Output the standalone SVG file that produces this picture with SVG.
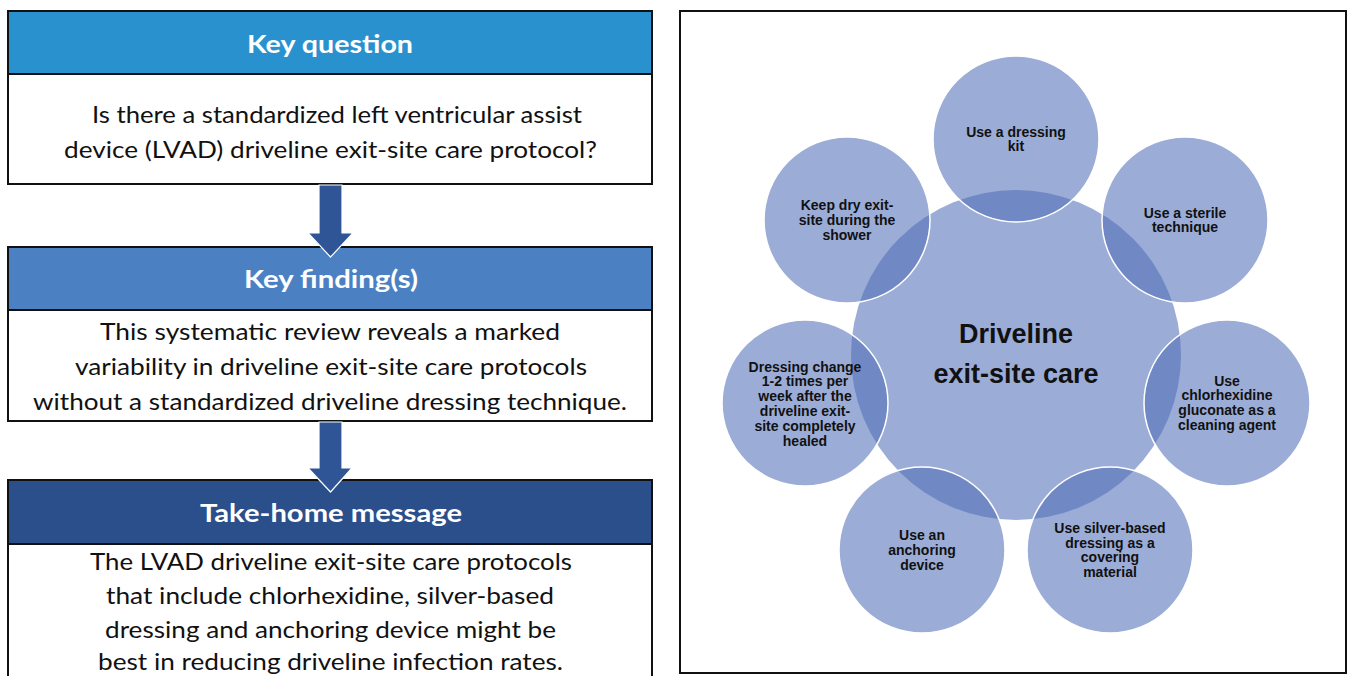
<svg xmlns="http://www.w3.org/2000/svg" width="1348" height="676" viewBox="0 0 1348 676">
<style>
.box{fill:#fff;stroke:#111;stroke-width:2}
.hdr{stroke:#111;stroke-width:2}
.ht{font-family:Lato,"Open Sans","Liberation Sans",sans-serif;font-weight:bold;font-size:24px;fill:#fff;text-anchor:middle}
.bt{font-family:Lato,"Open Sans","Liberation Sans",sans-serif;font-size:23px;fill:#111;text-anchor:middle}
.sat{fill:#506DB7;fill-opacity:0.57;stroke:#fff;stroke-width:1.5}
.ctr{fill:#506DB7;fill-opacity:0.57}
.st{font-family:"Liberation Sans",Arial,sans-serif;font-weight:bold;font-size:14px;fill:#111;text-anchor:middle}
.ct{font-family:"Liberation Sans",Arial,sans-serif;font-weight:bold;font-size:27px;fill:#111;text-anchor:middle}
.arr{fill:#2F5597;stroke:#fff;stroke-width:1.2;stroke-linejoin:miter}
</style>
<rect width="1348" height="676" fill="#fff"/>

<g id="key-question">
<rect class="box" x="8" y="11" width="644" height="173"/>
<rect class="hdr" x="8" y="11" width="644" height="63" fill="#2A91CF"/>
<text class="ht" x="330" y="53" textLength="166" lengthAdjust="spacingAndGlyphs">Key question</text>
<text class="bt" x="337" y="123" textLength="490" lengthAdjust="spacingAndGlyphs">Is there a standardized left ventricular assist</text>
<text class="bt" x="330.5" y="158" textLength="533" lengthAdjust="spacingAndGlyphs">device (LVAD) driveline exit-site care protocol?</text>
</g>

<g id="key-findings">
<rect class="box" x="8" y="247" width="644" height="174"/>
<rect class="hdr" x="8" y="247" width="644" height="63" fill="#4B81C3"/>
<text class="ht" x="331" y="288" textLength="174" lengthAdjust="spacingAndGlyphs">Key finding(s)</text>
<text class="bt" x="330" y="340" textLength="460" lengthAdjust="spacingAndGlyphs">This systematic review reveals a marked</text>
<text class="bt" x="331" y="375" textLength="512" lengthAdjust="spacingAndGlyphs">variability in driveline exit-site care protocols</text>
<text class="bt" x="330" y="410" textLength="594" lengthAdjust="spacingAndGlyphs">without a standardized driveline dressing technique.</text>
</g>

<g id="take-home">
<rect class="box" x="8" y="480" width="644" height="220"/>
<rect class="hdr" x="8" y="480" width="644" height="64" fill="#2B4F8A"/>
<text class="ht" x="331" y="522" textLength="262" lengthAdjust="spacingAndGlyphs">Take-home message</text>
<text class="bt" x="331" y="570" textLength="482" lengthAdjust="spacingAndGlyphs">The LVAD driveline exit-site care protocols</text>
<text class="bt" x="330" y="604" textLength="448" lengthAdjust="spacingAndGlyphs">that include chlorhexidine, silver-based</text>
<text class="bt" x="330.5" y="638" textLength="451" lengthAdjust="spacingAndGlyphs">dressing and anchoring device might be</text>
<text class="bt" x="330.5" y="670" textLength="465" lengthAdjust="spacingAndGlyphs">best in reducing driveline infection rates.</text>
</g>

<g id="connectors">
<polygon class="arr" points="319,185 342,185 342,233 353,233 330.5,257 308,233 319,233"/>
<polygon class="arr" points="319,422 342,422 342,468 352,468 330.5,492 308,468 319,468"/>
</g>

<rect id="care-panel" x="680" y="11" width="666" height="662" fill="none" stroke="#111" stroke-width="2"/>

<g id="center">
<circle class="ctr" cx="1016" cy="355" r="165"/>
</g>

<g id="sat-kit">
<circle class="sat" cx="1016" cy="139" r="83"/>
<text class="st"><tspan x="1016" y="136.6">Use a dressing</tspan><tspan x="1016" y="151.4">kit</tspan></text>
</g>
<g id="sat-sterile">
<circle class="sat" cx="1185" cy="220" r="83"/>
<text class="st"><tspan x="1185" y="217.6">Use a sterile</tspan><tspan x="1185" y="232.4">technique</tspan></text>
</g>
<g id="sat-chlorhexidine">
<circle class="sat" cx="1227" cy="403" r="83"/>
<text class="st"><tspan x="1227" y="385.5">Use</tspan><tspan x="1227" y="400.3">chlorhexidine</tspan><tspan x="1227" y="415.1">gluconate as a</tspan><tspan x="1227" y="429.9">cleaning agent</tspan></text>
</g>
<g id="sat-silver">
<circle class="sat" cx="1110" cy="550" r="83"/>
<text class="st"><tspan x="1110" y="532.8">Use silver-based</tspan><tspan x="1110" y="547.6">dressing as a</tspan><tspan x="1110" y="562.4">covering</tspan><tspan x="1110" y="577.2">material</tspan></text>
</g>
<g id="sat-anchoring">
<circle class="sat" cx="922" cy="550" r="83"/>
<text class="st"><tspan x="922" y="540.2">Use an</tspan><tspan x="922" y="555">anchoring</tspan><tspan x="922" y="569.8">device</tspan></text>
</g>
<g id="sat-dressing-change">
<circle class="sat" cx="805" cy="403" r="83"/>
<text class="st"><tspan x="805" y="371.5">Dressing change</tspan><tspan x="805" y="386.3">1-2 times per</tspan><tspan x="805" y="401.1">week after the</tspan><tspan x="805" y="415.9">driveline exit-</tspan><tspan x="805" y="430.7">site completely</tspan><tspan x="805" y="445.5">healed</tspan></text>
</g>
<g id="sat-dry">
<circle class="sat" cx="847" cy="220" r="83"/>
<text class="st"><tspan x="847" y="210.2">Keep dry exit-</tspan><tspan x="847" y="225">site during the</tspan><tspan x="847" y="239.8">shower</tspan></text>
</g>

<g id="center-label">
<text class="ct" x="1016" y="343">Driveline</text>
<text class="ct" x="1016" y="383">exit-site care</text>
</g>
</svg>
